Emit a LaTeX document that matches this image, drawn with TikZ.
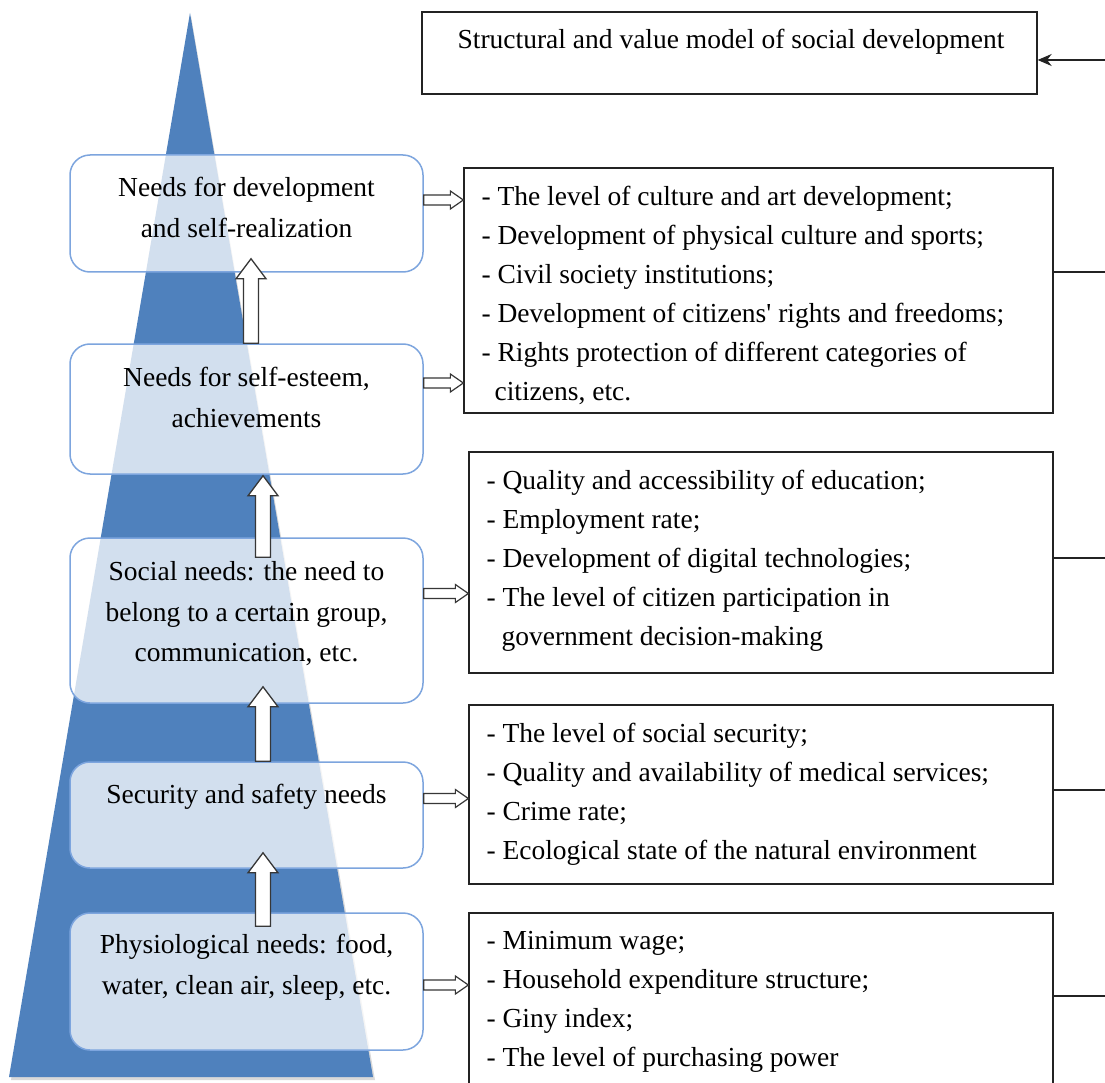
\documentclass[tikz,border=0pt]{standalone}
\usepackage{fontspec}
\setmainfont{Liberation Serif}[Ligatures=TeXOff]
\usetikzlibrary{arrows.meta,calc}
\definecolor{triblue}{RGB}{79,129,189}
\definecolor{lboxline}{RGB}{125,165,222}
\definecolor{arrowgray}{RGB}{55,55,55}
\definecolor{boxline}{RGB}{35,35,35}
\begin{document}
\begin{tikzpicture}[x=1pt,y=-1pt,
  lbox/.style={draw=lboxline, line width=1.5pt, fill=white, fill opacity=0.75,
    rounded corners=20pt, minimum width=353pt, inner sep=0pt},
  rbox/.style={draw=boxline, line width=1.3pt, inner sep=0pt},
  ltext/.style={font=\fontsize{27.5}{40.5}\selectfont, align=center, inner sep=0pt, anchor=north},
  rtext/.style={font=\fontsize{27.5}{39}\selectfont, align=left, inner sep=0pt, anchor=north west},
  fatup/.style={draw=arrowgray, fill=white, line width=1.3pt,
    to path={let \p1=(\tikztostart), \p2=(\tikztotarget) in
      (\x1-7.5pt,\y1) -- (\x1-7.5pt,\y2-20pt) -- (\x1-15pt,\y2-20pt) -- (\x1,\y2)
      -- (\x1+15pt,\y2-20pt) -- (\x1+7.5pt,\y2-20pt) -- (\x1+7.5pt,\y1) -- cycle}},
  fatright/.style={draw=arrowgray, fill=white, line width=1.2pt,
    to path={let \p1=(\tikztostart), \p2=(\tikztotarget) in
      (\x1,\y1+5pt) -- (\x2-13pt,\y1+5pt) -- (\x2-13pt,\y1+9pt) -- (\x2,\y1)
      -- (\x2-13pt,\y1-9pt) -- (\x2-13pt,\y1-5pt) -- (\x1,\y1-5pt) -- cycle}},
  link/.style={draw=boxline, line width=1.3pt}
]
\useasboundingbox (0,0) rectangle (1105,1083);
\clip (0,0) rectangle (1105,1083);
\fill[white] (0,0) rectangle (1105,1083);

% pyramid
\fill[black!15] (191,16) -- (375,1080) -- (11,1080) -- cycle;
\fill[triblue] (190,13) -- (373,1077) -- (9,1077) -- cycle;

% left boxes
\node[lbox, minimum height=117pt] (b1) at (246.5,213.5) {};
\node[lbox, minimum height=130pt] (b2) at (246.5,409) {};
\node[lbox, minimum height=165pt] (b3) at (246.5,620.5) {};
\node[lbox, minimum height=106pt] (b4) at (246.5,815) {};
\node[lbox, minimum height=137pt] (b5) at (246.5,981.5) {};

\node[ltext] (t1) at ([yshift=-23pt]b1.north) {Needs for development\\and self-realization};
\node[ltext] (t2) at ([yshift=-24pt]b2.north) {Needs for self-esteem,\\achievements};
\node[ltext] (t3) at ([yshift=-24pt]b3.north) {Social needs: the need to\\belong to a certain group,\\communication, etc.};
\node[ltext] (t4) at ([yshift=-23pt]b4.north) {Security and safety needs};
\node[ltext] (t5) at ([yshift=-22pt]b5.north) {Physiological needs: food,\\water, clean air, sleep, etc.};

% up arrows
\coordinate (u1s) at ([xshift=4.5pt]b2.north);
\coordinate (u1e) at ([xshift=4.5pt,yshift=14pt]b1.south);
\coordinate (u2s) at ([xshift=16.5pt,yshift=-20pt]b3.north);
\coordinate (u2e) at ([xshift=16.5pt,yshift=-1pt]b2.south);
\coordinate (u3s) at ([xshift=16.5pt]b4.north);
\coordinate (u3e) at ([xshift=16.5pt,yshift=17pt]b3.south);
\coordinate (u4s) at ([xshift=16.5pt,yshift=-14pt]b5.north);
\coordinate (u4e) at ([xshift=16.5pt,yshift=16pt]b4.south);
\draw[fatup] (u1s) to (u1e);
\draw[fatup] (u2s) to (u2e);
\draw[fatup] (u3s) to (u3e);
\draw[fatup] (u4s) to (u4e);

% right boxes
\node[rbox, minimum width=615pt, minimum height=82pt] (r0) at (729.5,53) {};
\node[anchor=base, inner sep=0pt, font=\fontsize{27.5}{39}\selectfont] (s0) at (731,49)
  {Structural and value model of social development};

\node[rbox, minimum width=589pt, minimum height=245pt] (r1) at (758.5,290.5) {};
\node[rbox, minimum width=584pt, minimum height=221pt] (r2) at (761,562.5) {};
\node[rbox, minimum width=584pt, minimum height=179pt] (r3) at (761,794.5) {};
\node[rbox, minimum width=584pt, minimum height=177pt] (r4) at (761,1001.5) {};

\node[rtext] (s1) at ([xshift=18pt,yshift=-18.6pt]r1.north west)
  {- The level of culture and art development;\\
   - Development of physical culture and sports;\\
   - Civil society institutions;\\
   - Development of citizens' rights and freedoms;\\
   - Rights protection of different categories of\\
   \hspace*{13pt}citizens, etc.};
\node[rtext] (s2) at ([xshift=18pt,yshift=-18.6pt]r2.north west)
  {- Quality and accessibility of education;\\
   - Employment rate;\\
   - Development of digital technologies;\\
   - The level of citizen participation in\\
   \hspace*{15pt}government decision-making};
\node[rtext] (s3) at ([xshift=18pt,yshift=-18.6pt]r3.north west)
  {- The level of social security;\\
   - Quality and availability of medical services;\\
   - Crime rate;\\
   - Ecological state of the natural environment};
\node[rtext] (s4) at ([xshift=18pt,yshift=-18.6pt]r4.north west)
  {- Minimum wage;\\
   - Household expenditure structure;\\
   - Giny index;\\
   - The level of purchasing power};

% right hollow arrows
\coordinate (h1) at ([yshift=13.5pt]b1.east);
\coordinate (h2) at ([yshift=26pt]b2.east);
\coordinate (h3) at ([yshift=27pt]b3.east);
\coordinate (h4) at ([yshift=16.5pt]b4.east);
\coordinate (h5) at ([yshift=-3.5pt]b5.east);
\draw[fatright] (h1) to (h1 -| r1.west);
\draw[fatright] (h2) to (h2 -| r1.west);
\draw[fatright] (h3) to (h3 -| r2.west);
\draw[fatright] (h4) to (h4 -| r3.west);
\draw[fatright] (h5) to (h5 -| r4.west);

% links to the right edge
\coordinate (e0) at (1105,60);
\coordinate (e1) at (1105,272);
\coordinate (e2) at (1105,558);
\coordinate (e3) at (1105,790);
\coordinate (e4) at (1105,996);
\draw[link, -{Stealth[length=14pt,width=12pt]}] (e0) -- (e0 -| r0.east);
\draw[link] (e1 -| r1.east) -- (e1);
\draw[link] (e2 -| r2.east) -- (e2);
\draw[link] (e3 -| r3.east) -- (e3);
\draw[link] (e4 -| r4.east) -- (e4);
\end{tikzpicture}
\end{document}
